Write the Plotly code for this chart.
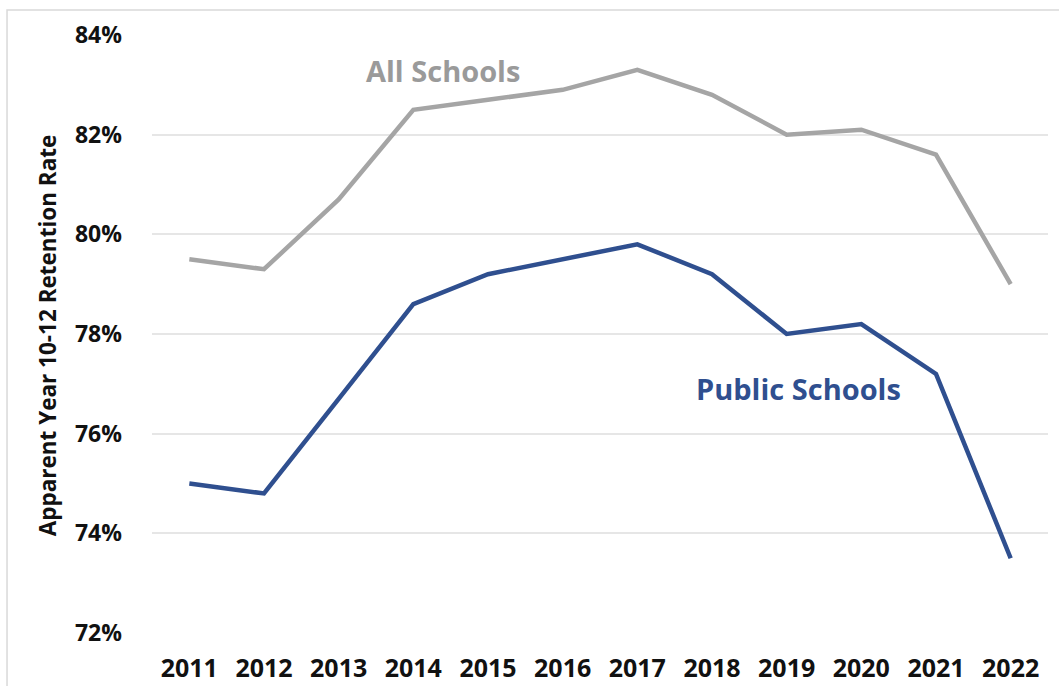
import plotly.graph_objects as go

years = [2011, 2012, 2013, 2014, 2015, 2016, 2017, 2018, 2019, 2020, 2021, 2022]
all_schools = [79.5, 79.3, 80.7, 82.5, 82.7, 82.9, 83.3, 82.8, 82.0, 82.1, 81.6, 79.0]
public_schools = [75.0, 74.8, 76.7, 78.6, 79.2, 79.5, 79.8, 79.2, 78.0, 78.2, 77.2, 73.5]
y_ticks = [72, 74, 76, 78, 80, 82, 84]
y_tick_labels = ["72%", "74%", "76%", "78%", "80%", "82%", "84%"]

GRAY = "#A5A5A5"
BLUE = "#2F4F8F"
FONT = "Open Sans"

fig = go.Figure()
fig.add_trace(go.Scatter(x=years, y=all_schools, mode="lines", name="All Schools",
                         line=dict(color=GRAY, width=4.5), showlegend=False))
fig.add_trace(go.Scatter(x=years, y=public_schools, mode="lines", name="Public Schools",
                         line=dict(color=BLUE, width=4.5), showlegend=False))

fig.add_annotation(x=2014.40, y=83.28, text="All Schools", showarrow=False,
                   xanchor="center", yanchor="middle",
                   font=dict(family=FONT, size=29, color="#9A9A9A", weight="bold"))
fig.add_annotation(x=2019.155, y=76.9, text="Public Schools", showarrow=False,
                   xanchor="center", yanchor="middle",
                   font=dict(family=FONT, size=29, color=BLUE, weight="bold"))
fig.add_annotation(xref="paper", yref="paper", x=-0.117, y=0.498,
                   xanchor="center", yanchor="middle",
                   text="Apparent Year 10-12 Retention Rate", textangle=-90, showarrow=False,
                   font=dict(family=FONT, size=22.5, color="#111111", weight="bold"))

fig.add_shape(type="rect", xref="paper", yref="paper", x0=-0.1618, y0=-0.2, x1=1.1, y1=1.0418,
              line=dict(color="#D9D9D9", width=1.5), fillcolor="rgba(0,0,0,0)", layer="below")

fig.update_layout(
    width=1059, height=686,
    margin=dict(l=152, r=11, t=35, b=53, autoexpand=False),
    paper_bgcolor="white", plot_bgcolor="white",
    font=dict(family=FONT, color="#111111"),
    xaxis=dict(range=[2010.5, 2022.5], tickmode="array", tickvals=years,
               ticktext=[str(y) for y in years], showgrid=False, zeroline=False,
               showline=False, ticks="", ticklabelstandoff=18, automargin=False,
               tickfont=dict(family=FONT, size=25, color="#111111", weight="bold")),
    yaxis=dict(range=[72, 84], tickmode="array", tickvals=y_ticks, ticktext=y_tick_labels,
               showgrid=True, gridcolor="#E6E6E6", gridwidth=1.5, zeroline=False,
               showline=False, ticks="", ticklabelstandoff=29, automargin=False,
               tickfont=dict(family=FONT, size=23, color="#111111", weight="bold")),
)

fig.write_html("out.html")
